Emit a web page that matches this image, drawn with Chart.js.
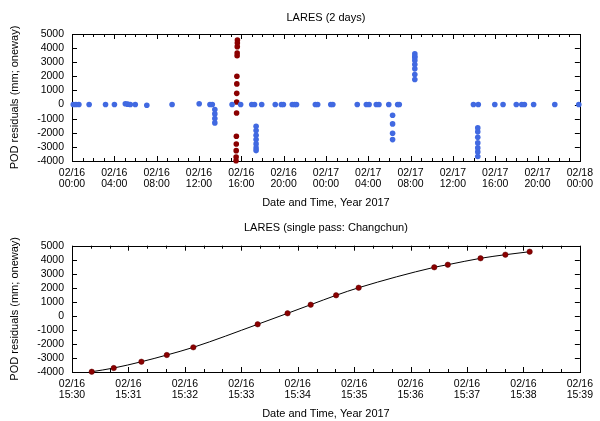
<!DOCTYPE html>
<html>
<head>
<meta charset="utf-8">
<script src="https://cdn.jsdelivr.net/npm/chart.js@4.4.1/dist/chart.umd.min.js"></script>
<style>
  body { margin: 0; background: #fff; }
  canvas { display: block; }
</style>
</head>
<body>
<canvas id="days_chart" width="600" height="210"></canvas>
<canvas id="pass_chart" width="600" height="211"></canvas>
<script>
// single pass (Changchun), minutes after 02/16 15:30
var passMinutes = [0.35, 0.74, 1.23, 1.68, 2.15, 3.29, 3.82, 4.23, 4.68, 5.08, 6.42, 6.66, 7.24, 7.68, 8.11];
var passResiduals = [-3980, -3717, -3268, -2790, -2242, -602, 182, 795, 1465, 2006, 3460, 3646, 4102, 4359, 4572];

// other passes over 2 days, hours after 02/16 00:00
var otherHours = [
  0.12, 0.37, 0.65, 1.62, 3.17, 4.01, 5.04, 5.26, 5.51, 5.98, 7.07, 9.46, 12.02, 13.04, 13.26,
  13.5, 13.5, 13.5, 13.5,
  15.13, 15.94, 16.99, 17.25, 17.93,
  17.4, 17.4, 17.4, 17.4, 17.4, 17.4, 17.4,
  19.21, 19.79, 19.98, 20.82, 21.04, 21.22, 23.0, 23.22, 24.46, 24.65, 26.96, 27.82, 28.08,
  28.76, 29.01, 29.94, 30.78, 30.93,
  30.3, 30.3, 30.3, 30.3,
  32.4, 32.4, 32.4, 32.4, 32.4, 32.4, 32.4, 32.4,
  37.94, 38.4,
  38.35, 38.35, 38.35, 38.35, 38.35, 38.35, 38.35,
  39.96, 40.74, 41.99, 42.51, 42.76, 43.63, 45.63, 47.9
];
var otherResiduals = [
  0, 0, 0, 0, 0, 0, 60, 30, 0, 0, -50, 0, 60, 0, 0,
  -355, -662, -993, -1300,
  0, 0, 0, 0, 0,
  -1540, -1844, -2177, -2482, -2787, -3071, -3262,
  0, 0, 0, 0, 0, 0, 0, 0, 0, 0, 0, 0, 0,
  0, 0, 0, 0, 0,
  -757, -1370, -2035, -2482,
  3596, 3426, 3312, 3121, 2837, 2532, 2128, 1773,
  0, 0,
  -1653, -1936, -2319, -2716, -3071, -3355, -3680,
  0, 0, 0, 0, 0, 0, 0, 0
];

var yTicks = [-4000, 5000, 1000];
var dayLabels = ['02/16', '02/17', '02/18'];

Chart.defaults.font.family = '"Liberation Sans", Arial, sans-serif';
Chart.defaults.font.size = 10.5;
Chart.defaults.color = '#000';

// gnuplot style: box round the plot and ticks pointing inwards on all sides
var innerTicks = {
    id: 'innerTicks',
    beforeDatasetsDraw: function (chart, args, opts) {
        var ctx = chart.ctx, a = chart.chartArea, x = chart.scales.x, y = chart.scales.y;
        ctx.save();
        ctx.strokeStyle = '#000';
        ctx.lineWidth = 1;
        ctx.beginPath();
        var n = Math.round((x.max - x.min) / opts.minor);
        for (var i = 0; i <= n; i++) {
            var v = x.min + i * opts.minor;
            var px = Math.round(x.getPixelForValue(v)) + 0.5;
            var len = (i % opts.every === 0) ? 5 : 3;
            ctx.moveTo(px, a.bottom); ctx.lineTo(px, a.bottom - len);
            ctx.moveTo(px, a.top); ctx.lineTo(px, a.top + len);
        }
        y.ticks.forEach(function (t) {
            var py = Math.round(y.getPixelForValue(t.value)) + 0.5;
            ctx.moveTo(a.left, py); ctx.lineTo(a.left + 5, py);
            ctx.moveTo(a.right, py); ctx.lineTo(a.right - 5, py);
        });
        ctx.stroke();
        ctx.strokeRect(Math.round(a.left) + 0.5, Math.round(a.top) + 0.5,
            Math.round(a.right - a.left), Math.round(a.bottom - a.top));
        ctx.restore();
    }
};

function yScale() {
    return {
        min: yTicks[0], max: yTicks[1],
        grid: { display: false, drawTicks: false }, border: { display: false },
        ticks: { stepSize: yTicks[2], padding: 8, autoSkip: false, callback: function (v) { return String(v); } },
        title: { display: true, text: 'POD residuals (mm; oneway)', font: { size: 11 }, padding: { top: 8.4, bottom: 0 } },
        afterFit: function (s) { s.width = 72; }
    };
}

function xScale(min, max, step, cb) {
    return {
        type: 'linear', min: min, max: max,
        grid: { display: false, drawTicks: false }, border: { display: false },
        ticks: { stepSize: step, padding: 7, maxRotation: 0, autoSkip: false, font: { lineHeight: 1.05 }, callback: cb },
        title: { display: true, text: 'Date and Time, Year 2017', font: { size: 11 }, padding: { top: 0, bottom: 0 } },
        afterFit: function (s) { s.height = 49; }
    };
}

function toPoints(xs, ys, f) {
    return xs.map(function (v, i) { return { x: f(v), y: ys[i] }; });
}

new Chart(document.getElementById('days_chart').getContext('2d'), {
    type: 'scatter',
    data: {
        datasets: [{
            data: toPoints(otherHours, otherResiduals, function (h) { return h; }),
            backgroundColor: '#4169e1', borderWidth: 0, pointRadius: 2.8, clip: false
        }, {
            data: toPoints(passMinutes, passResiduals, function (m) { return 15.5 + m / 60; }),
            backgroundColor: '#8b0000', borderWidth: 0, pointRadius: 2.8, clip: false
        }]
    },
    options: {
        responsive: false,
        animation: false,
        layout: { padding: { left: 0, right: 15, top: 0, bottom: 0 } },
        plugins: {
            legend: { display: false },
            tooltip: { enabled: false },
            title: { display: true, text: 'LARES (2 days)', fullSize: false, font: { size: 11, weight: 'normal' }, padding: { top: 11.7, bottom: 9.1 } },
            innerTicks: { minor: 1, every: 4 }
        },
        scales: {
            x: xScale(0, 48, 4, function (v) {
                var hh = v % 24;
                return [dayLabels[Math.floor(v / 24)], (hh < 10 ? '0' : '') + hh + ':00'];
            }),
            y: yScale()
        }
    },
    plugins: [innerTicks]
});

new Chart(document.getElementById('pass_chart').getContext('2d'), {
    type: 'line',
    data: {
        datasets: [{
            data: toPoints(passMinutes, passResiduals, function (m) { return m; }),
            borderColor: '#000', borderWidth: 1, cubicInterpolationMode: 'monotone',
            pointBackgroundColor: '#8b0000', pointBorderColor: '#5a0000', pointBorderWidth: 0.5,
            pointRadius: 2.7, clip: false
        }]
    },
    options: {
        responsive: false,
        animation: false,
        layout: { padding: { left: 0, right: 15, top: 0, bottom: 0 } },
        plugins: {
            legend: { display: false },
            tooltip: { enabled: false },
            title: { display: true, text: 'LARES (single pass: Changchun)', fullSize: false, font: { size: 11, weight: 'normal' }, padding: { top: 11.7, bottom: 10.8 } },
            innerTicks: { minor: 1 / 3, every: 3 }
        },
        scales: {
            x: xScale(0, 9, 1, function (v) { return ['02/16', '15:' + (30 + v)]; }),
            y: yScale()
        }
    },
    plugins: [innerTicks]
});
</script>
</body>
</html>
